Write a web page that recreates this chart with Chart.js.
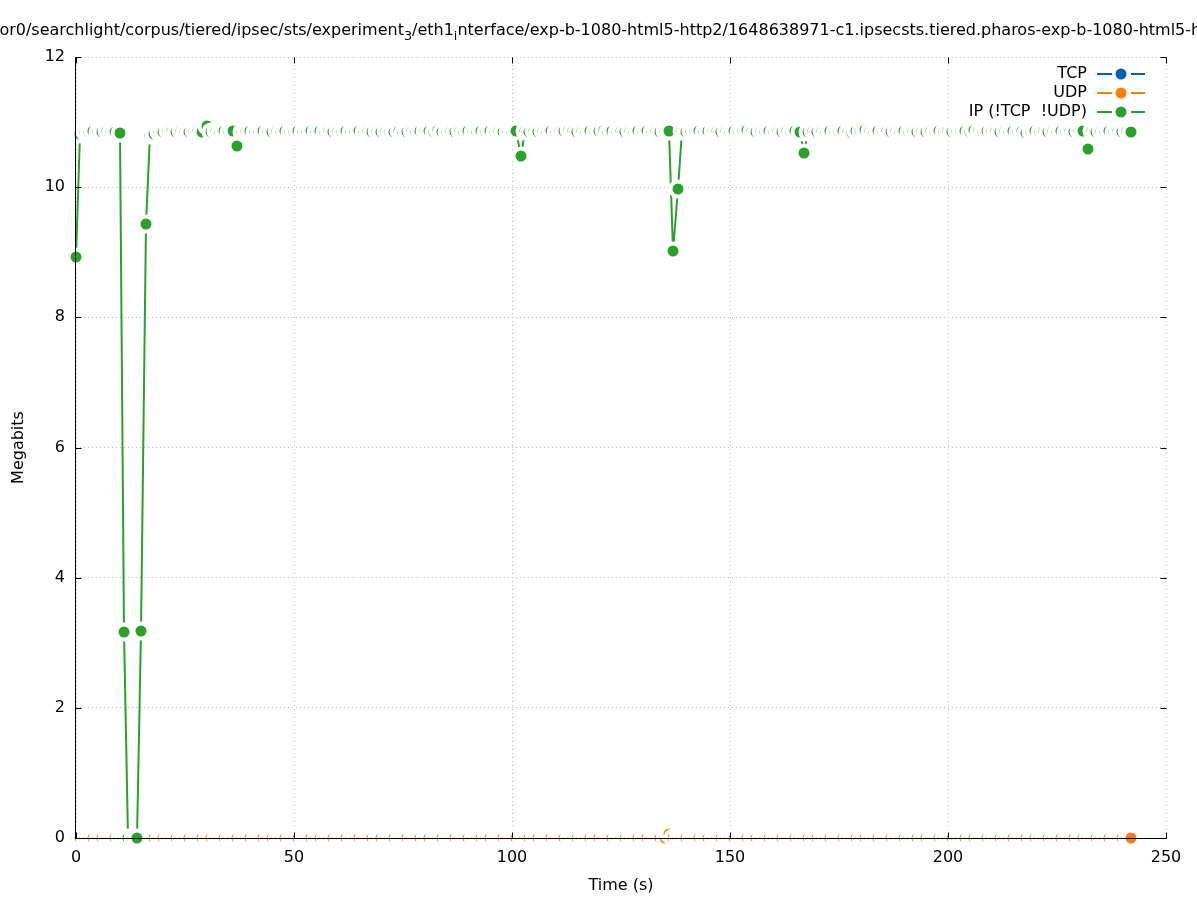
<!DOCTYPE html>
<html>
<head>
<meta charset="utf-8">
<title>Megabits over time</title>
<script src="https://cdn.jsdelivr.net/npm/chart.js@4.4.1/dist/chart.umd.min.js"></script>
<style>
  html, body { margin: 0; padding: 0; background: #fff; }
</style>
</head>
<body>
<canvas id="chart" width="1197" height="900"></canvas>
<script>
// one sample per second, 0 .. 242 s
const seconds = Array.from({ length: 243 }, (_, i) => i);

const tcpMbits = [
  0, 0, 0, 0, 0, 0, 0, 0, 0, 0, 0, 0, 0, 0, 0, 0, 0, 0, 0, 0,
  0, 0, 0, 0, 0, 0, 0, 0, 0, 0, 0, 0, 0, 0, 0, 0, 0, 0, 0, 0,
  0, 0, 0, 0, 0, 0, 0, 0, 0, 0, 0, 0, 0, 0, 0, 0, 0, 0, 0, 0,
  0, 0, 0, 0, 0, 0, 0, 0, 0, 0, 0, 0, 0, 0, 0, 0, 0, 0, 0, 0,
  0, 0, 0, 0, 0, 0, 0, 0, 0, 0, 0, 0, 0, 0, 0, 0, 0, 0, 0, 0,
  0, 0, 0, 0, 0, 0, 0, 0, 0, 0, 0, 0, 0, 0, 0, 0, 0, 0, 0, 0,
  0, 0, 0, 0, 0, 0, 0, 0, 0, 0, 0, 0, 0, 0, 0, 0, 0, 0, 0, 0,
  0, 0, 0, 0, 0, 0, 0, 0, 0, 0, 0, 0, 0, 0, 0, 0, 0, 0, 0, 0,
  0, 0, 0, 0, 0, 0, 0, 0, 0, 0, 0, 0, 0, 0, 0, 0, 0, 0, 0, 0,
  0, 0, 0, 0, 0, 0, 0, 0, 0, 0, 0, 0, 0, 0, 0, 0, 0, 0, 0, 0,
  0, 0, 0, 0, 0, 0, 0, 0, 0, 0, 0, 0, 0, 0, 0, 0, 0, 0, 0, 0,
  0, 0, 0, 0, 0, 0, 0, 0, 0, 0, 0, 0, 0, 0, 0, 0, 0, 0, 0, 0,
  0, 0, 0
];

const udpMbits = [
  0, 0, 0, 0, 0, 0, 0, 0, 0, 0, 0, 0, 0, 0, 0, 0, 0, 0, 0, 0,
  0, 0, 0, 0, 0, 0, 0, 0, 0, 0, 0, 0, 0, 0, 0, 0, 0, 0, 0, 0,
  0, 0, 0, 0, 0, 0, 0, 0, 0, 0, 0, 0, 0, 0, 0, 0, 0, 0, 0, 0,
  0, 0, 0, 0, 0, 0, 0, 0, 0, 0, 0, 0, 0, 0, 0, 0, 0, 0, 0, 0,
  0, 0, 0, 0, 0, 0, 0, 0, 0, 0, 0, 0, 0, 0, 0, 0, 0, 0, 0, 0,
  0, 0, 0, 0, 0, 0, 0, 0, 0, 0, 0, 0, 0, 0, 0, 0, 0, 0, 0, 0,
  0, 0, 0, 0, 0, 0, 0, 0, 0, 0, 0, 0, 0, 0, 0, 0, 0.06, 0, 0, 0,
  0, 0, 0, 0, 0, 0, 0, 0, 0, 0, 0, 0, 0, 0, 0, 0, 0, 0, 0, 0,
  0, 0, 0, 0, 0, 0, 0, 0, 0, 0, 0, 0, 0, 0, 0, 0, 0, 0, 0, 0,
  0, 0, 0, 0, 0, 0, 0, 0, 0, 0, 0, 0, 0, 0, 0, 0, 0, 0, 0, 0,
  0, 0, 0, 0, 0, 0, 0, 0, 0, 0, 0, 0, 0, 0, 0, 0, 0, 0, 0, 0,
  0, 0, 0, 0, 0, 0, 0, 0, 0, 0, 0, 0, 0, 0, 0, 0, 0, 0, 0, 0,
  0, 0, 0
];

const ipMbits = [
  8.92, 10.82, 10.85, 10.84, 10.86, 10.85, 10.85, 10.86, 10.84, 10.85,
  10.83, 3.17, 0, 0, 0, 3.18, 9.43, 10.80, 10.82, 10.84,
  10.85, 10.87, 10.86, 10.85, 10.86, 10.85, 10.84, 10.86, 10.87, 10.85,
  10.94, 10.85, 10.86, 10.85, 10.86, 10.85, 10.87, 10.63, 10.85, 10.86,
  10.86, 10.85, 10.86, 10.86, 10.85, 10.84, 10.86, 10.85, 10.86, 10.85,
  10.84, 10.86, 10.85, 10.87, 10.86, 10.85, 10.86, 10.85, 10.86, 10.85,
  10.86, 10.85, 10.86, 10.84, 10.85, 10.86, 10.85, 10.86, 10.85, 10.86,
  10.85, 10.86, 10.85, 10.84, 10.86, 10.83, 10.85, 10.86, 10.85, 10.86,
  10.87, 10.86, 10.85, 10.88, 10.84, 10.85, 10.86, 10.85, 10.86, 10.85,
  10.86, 10.85, 10.84, 10.86, 10.85, 10.86, 10.85, 10.86, 10.85, 10.84,
  10.85, 10.86, 10.48, 10.86, 10.85, 10.86, 10.85, 10.86, 10.85, 10.86,
  10.85, 10.86, 10.87, 10.88, 10.86, 10.85, 10.86, 10.85, 10.86, 10.85,
  10.86, 10.88, 10.85, 10.86, 10.85, 10.86, 10.85, 10.86, 10.85, 10.86,
  10.85, 10.86, 10.85, 10.86, 10.85, 10.86, 10.86, 9.02, 9.97, 10.86,
  10.85, 10.86, 10.87, 10.86, 10.85, 10.86, 10.87, 10.86, 10.85, 10.86,
  10.85, 10.86, 10.85, 10.86, 10.88, 10.86, 10.85, 10.86, 10.85, 10.86,
  10.85, 10.86, 10.85, 10.86, 10.85, 10.86, 10.85, 10.53, 10.85, 10.86,
  10.85, 10.86, 10.85, 10.86, 10.85, 10.84, 10.86, 10.85, 10.83, 10.86,
  10.87, 10.88, 10.86, 10.85, 10.86, 10.85, 10.86, 10.85, 10.86, 10.85,
  10.86, 10.85, 10.86, 10.85, 10.86, 10.85, 10.86, 10.85, 10.86, 10.85,
  10.86, 10.85, 10.86, 10.87, 10.86, 10.85, 10.88, 10.86, 10.85, 10.86,
  10.87, 10.86, 10.85, 10.86, 10.85, 10.86, 10.85, 10.86, 10.83, 10.85,
  10.86, 10.85, 10.86, 10.85, 10.86, 10.85, 10.86, 10.85, 10.86, 10.85,
  10.86, 10.87, 10.59, 10.86, 10.85, 10.86, 10.85, 10.86, 10.85, 10.86,
  10.85, 10.86, 10.85
];

const seriesNames = ["TCP", "UDP", "IP (!TCP  !UDP)"];
const seriesColors = ["#0060ad", "#ff7f0e", "#2ca02c"];
const xTicks = [0, 50, 100, 150, 200, 250];
const yTicks = [0, 2, 4, 6, 8, 10, 12];

// gnuplot puts enhanced-text subscripts where the file path had underscores
const titleParts = [
  ["or0/searchlight/corpus/tiered/ipsec/sts/experiment", false],
  ["3", true],
  ["/eth1", false],
  ["i", true],
  ["nterface/exp-b-1080-html5-http2/1648638971-c1.ipsecsts.tiered.pharos-exp-b-1080-html5-http2", false],
];

const FONT = '"DejaVu Sans", sans-serif';
const HALO = 9.5;
const DOT = 5.5;

// filled dot sitting on a white disc, like gnuplot's points with a blank box
function marker(color) {
  const size = 2 * Math.ceil(HALO) + 2;
  const c = document.createElement("canvas");
  c.width = c.height = size;
  const g = c.getContext("2d");
  g.fillStyle = "#fff";
  g.beginPath(); g.arc(size / 2, size / 2, HALO, 0, 2 * Math.PI); g.fill();
  g.fillStyle = color;
  g.beginPath(); g.arc(size / 2, size / 2, DOT, 0, 2 * Math.PI); g.fill();
  return c;
}

const gnuplotLook = {
  id: "gnuplotLook",
  beforeDatasetsDraw(chart) {
    // snap to whole pixels the way the cairo terminal does
    chart.getSortedVisibleDatasetMetas().forEach(meta => {
      meta.data.forEach(p => { p.x = Math.round(p.x); p.y = Math.round(p.y); });
    });
  },
  afterDatasetsDraw(chart) {
    const { ctx, chartArea: a, scales } = chart;
    const L = Math.round(a.left) - 0.5, B = Math.round(a.bottom) + 0.5;
    const R = Math.round(a.right) + 0.5, T = Math.round(a.top) + 0.5;
    const tick = 6;
    ctx.save();
    ctx.strokeStyle = "#000";
    ctx.lineWidth = 1;
    ctx.beginPath();
    ctx.moveTo(L, T); ctx.lineTo(L, B); ctx.lineTo(R, B);
    xTicks.forEach(v => {
      const x = Math.round(scales.x.getPixelForValue(v)) + 0.5;
      ctx.moveTo(x, B); ctx.lineTo(x, B - tick);
      ctx.moveTo(x, T); ctx.lineTo(x, T + tick);
    });
    yTicks.forEach(v => {
      const y = Math.round(scales.y.getPixelForValue(v)) + 0.5;
      ctx.moveTo(L, y); ctx.lineTo(L + tick, y);
      ctx.moveTo(R, y); ctx.lineTo(R - tick, y);
    });
    ctx.stroke();
    ctx.restore();
  },
  afterDraw(chart) {
    const { ctx, chartArea: a } = chart;
    ctx.save();
    ctx.fillStyle = "#000";

    // title
    ctx.font = `16px ${FONT}`;
    ctx.textBaseline = "alphabetic";
    ctx.textAlign = "left";
    let x = 312 - ctx.measureText("or0/searchlight/corpus/tiered/ipsec/sts/").width;
    titleParts.forEach(([txt, sub]) => {
      ctx.font = sub ? `12.8px ${FONT}` : `16px ${FONT}`;
      ctx.fillText(txt, x, sub ? 40 : 35);
      x += ctx.measureText(txt).width;
    });

    // axis titles
    ctx.font = `16px ${FONT}`;
    ctx.textAlign = "center";
    ctx.textBaseline = "middle";
    ctx.fillText("Time (s)", (a.left + a.right) / 2, 886);
    ctx.save();
    ctx.translate(18.5, (a.top + a.bottom) / 2);
    ctx.rotate(-Math.PI / 2);
    ctx.fillText("Megabits", 0, 0);
    ctx.restore();

    // key, top right inside the plot
    ctx.font = `16px ${FONT}`;
    ctx.textAlign = "right";
    seriesNames.forEach((name, i) => {
      const y = 74 + i * 19;
      ctx.fillStyle = "#000";
      ctx.fillText(name, 1087, y);
      ctx.strokeStyle = seriesColors[i];
      ctx.lineWidth = 2;
      ctx.beginPath();
      ctx.moveTo(1097, y); ctx.lineTo(1112, y);
      ctx.moveTo(1131, y); ctx.lineTo(1145, y);
      ctx.stroke();
      ctx.fillStyle = seriesColors[i];
      ctx.beginPath(); ctx.arc(1121, y, DOT, 0, 2 * Math.PI); ctx.fill();
    });
    ctx.restore();
  },
};

const datasets = [tcpMbits, udpMbits, ipMbits].map((vals, i) => ({
  label: seriesNames[i],
  data: seconds.map((t, j) => ({ x: t, y: vals[j] })),
  borderColor: seriesColors[i],
  backgroundColor: seriesColors[i],
  borderWidth: 2,
  pointStyle: marker(seriesColors[i]),
  pointRadius: DOT,
  tension: 0,
  clip: false,
  order: 2 - i,
}));

const gridColor = "#bdbdbd";

new Chart(document.getElementById("chart"), {
  type: "line",
  data: { datasets },
  plugins: [gnuplotLook],
  options: {
    responsive: false,
    animation: false,
    events: [],
    layout: { padding: { left: 0, right: 31, top: 57, bottom: 0 } },
    plugins: { legend: { display: false }, tooltip: { enabled: false } },
    scales: {
      x: {
        type: "linear",
        min: 0,
        max: 250,
        afterBuildTicks: s => { s.ticks = xTicks.map(v => ({ value: v })); },
        afterFit: s => { s.height = 62; },
        ticks: { color: "#000", font: { family: FONT, size: 16 }, padding: 10, maxRotation: 0 },
        grid: { color: gridColor, drawTicks: false, borderDash: [1, 3] },
        border: { display: false, dash: [1, 3] },
      },
      y: {
        min: 0,
        max: 12,
        afterBuildTicks: s => { s.ticks = yTicks.map(v => ({ value: v })); },
        afterFit: s => { s.width = 76; },
        ticks: { color: "#000", font: { family: FONT, size: 16 }, padding: 11 },
        grid: { color: gridColor, drawTicks: false, borderDash: [1, 3] },
        border: { display: false, dash: [1, 3] },
      },
    },
  },
});
</script>
</body>
</html>
